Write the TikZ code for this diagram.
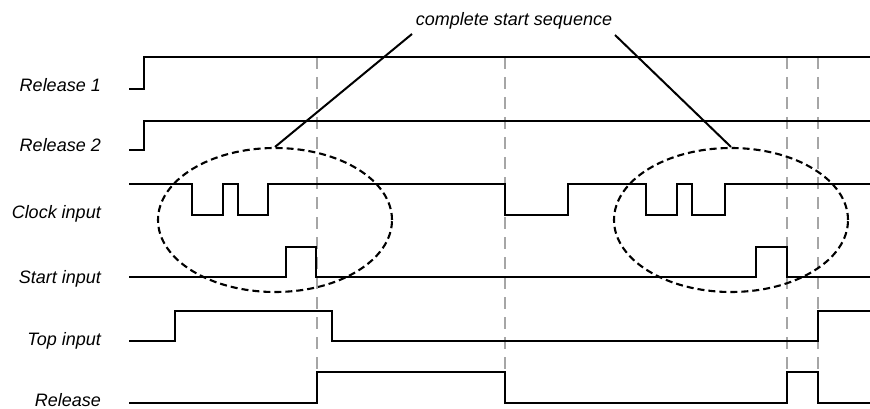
\documentclass[tikz,border=0pt]{standalone}
\usepackage{fontspec}
\setmainfont{Liberation Sans}
\usetikzlibrary{shapes.geometric}
\tikzset{
  sig/.style={line width=2.6pt, line join=miter, black},
  guide/.style={line width=2.2pt, color=black!35, dash pattern=on 12pt off 8pt},
  lbl/.style={font=\fontsize{18}{20}\selectfont\itshape, anchor=base east, inner sep=0pt},
  seq/.style={ellipse, draw, line width=2.1pt, dash pattern=on 7pt off 4pt, minimum width=234pt, minimum height=144pt, inner sep=0pt},
  pointer/.style={line width=2pt}
}
\begin{document}
\begin{tikzpicture}[x=1pt,y=-1pt]
\useasboundingbox (0,0) rectangle (870,409);
% guides
\foreach \gx/\gn in {317/ga,505/gb,787/gc,818/gd}{
  \coordinate (\gn top) at (\gx,57);
  \coordinate (\gn bot) at (\gx,372);
  \draw[guide] (\gn top) -- (\gn bot);
}
% labels
\node[lbl] (l1) at (101,92) {Release 1};
\node[lbl] (l2) at (101,152) {Release 2};
\node[lbl] (l3) at (101,218) {Clock input};
\node[lbl] (l4) at (101,283) {Start input};
\node[lbl] (l5) at (101,345) {Top input};
\node[lbl] (l6) at (101,406) {Release};
% signals
\draw[sig] (129,89) -- (144,89) -- (144,57) -- (870,57);
\draw[sig] (129,150) -- (144,150) -- (144,121) -- (870,121);
\draw[sig] (129,184) -- (192,184) -- (192,215) -- (223,215) -- (223,184) -- (238,184) -- (238,215) -- (268,215) -- (268,184)
  -- (505,184) -- (505,215) -- (568,215) -- (568,184) -- (646,184) -- (646,215) -- (677,215) -- (677,184) -- (692,184) -- (692,215) -- (725,215) -- (725,184) -- (870,184);
\draw[sig] (129,277) -- (286,277) -- (286,247) -- (316,247) -- (316,277) -- (756,277) -- (756,247) -- (787,247) -- (787,277) -- (870,277);
\draw[sig] (129,341) -- (175,341) -- (175,311) -- (332,311) -- (332,341) -- (818,341) -- (818,311) -- (870,311);
\draw[sig] (129,403) -- (317,403) -- (317,372) -- (505,372) -- (505,403) -- (787,403) -- (787,372) -- (818,372) -- (818,403) -- (870,403);
% sequences
\node[seq] (e1) at (275,220) {};
\node[seq] (e2) at (731,220) {};
\node[font=\fontsize{18}{20}\selectfont\itshape, anchor=base, inner sep=0pt] (title) at (514,26) {complete start sequence};
\coordinate (t1) at (412,34);
\coordinate (t2) at (615,35);
\draw[pointer] (t1) -- (e1.north);
\draw[pointer] (t2) -- (e2.north);
\end{tikzpicture}
\end{document}
